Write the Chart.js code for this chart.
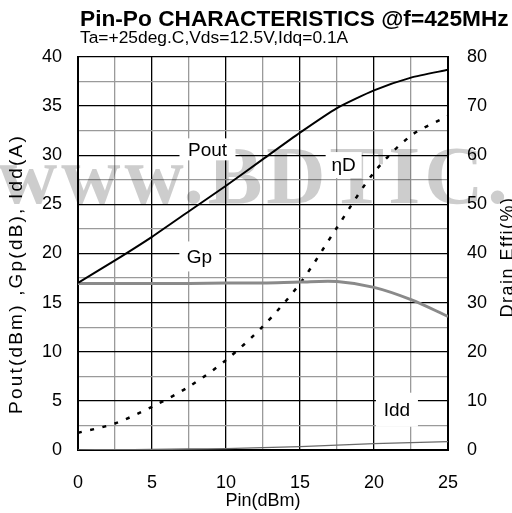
<!DOCTYPE html>
<html>
<head>
<meta charset="utf-8">
<script src="https://cdn.jsdelivr.net/npm/chart.js@4.4.0/dist/chart.umd.min.js"></script>
<style>
  html, body { margin: 0; padding: 0; background: #fff; }
  #wrap { width: 512px; height: 513px; }
</style>
</head>
<body>
<div id="wrap"><canvas id="chart" width="512" height="513"></canvas></div>
<script>
// Values
const pinDbm   = [0, 2.5, 5, 7.5, 10, 12.5, 15, 17.5, 20, 22.5, 25];
const poutDbm  = [17.0, 19.3, 21.7, 24.3, 26.9, 29.6, 32.3, 34.8, 36.6, 37.9, 38.7];
const gpDb     = [16.95, 16.95, 16.95, 16.95, 17.0, 17.0, 17.1, 17.15, 16.55, 15.3, 13.6];
const drainEff = [3.5, 5.4, 8.8, 12.9, 18.3, 25.2, 33.9, 45.3, 56.5, 64.0, 68.0];
const iddA     = [0.02, 0.03, 0.05, 0.1, 0.15, 0.25, 0.35, 0.5, 0.65, 0.75, 0.85];

const leftTicks  = [0, 5, 10, 15, 20, 25, 30, 35, 40];
const rightTicks = [0, 10, 20, 30, 40, 50, 60, 70, 80];
const xTicks     = [0, 5, 10, 15, 20, 25];

const titleText    = 'Pin-Po CHARACTERISTICS @f=425MHz';
const subtitleText = 'Ta=+25deg.C,Vds=12.5V,Idq=0.1A';
const xTitle       = 'Pin(dBm)';
const yLeftTitle   = 'Pout(dBm) ,Gp(dB), Idd(A)';
const yRightTitle  = 'Drain Effi(%)';

// curve labels, placed in data units of the left axis
const curveLabels = [
  { text: 'Pout', x: 8.75, y: 30.6, w: 56, h: 22 },
  { text: 'ηD',   x: 17.95, y: 29.0, w: 36, h: 26 },
  { text: 'Gp',   x: 8.2,  y: 19.7, w: 40, h: 30 },
  { text: 'Idd',  x: 21.55, y: 4.1,  w: 42, h: 34 }
];

const FONT = '"Liberation Sans", Arial, sans-serif';

function pts(ys) {
  return pinDbm.map((x, i) => ({ x: x, y: ys[i] }));
}

function onlyIn(list) {
  return v => list.includes(v) ? String(v) : '';
}

const gridColor = ctx => (ctx.tick && ctx.tick.value % 5 === 0) ? '#000' : '#9a9a9a';

const decorPlugin = {
  id: 'decor',
  beforeDraw(chart) {
    const ctx = chart.ctx;
    ctx.save();
    ctx.fillStyle = '#fff';
    ctx.fillRect(0, 0, chart.width, chart.height);
    ctx.restore();
  },
  afterDatasetsDraw(chart) {
    // watermark
    const ctx = chart.ctx;
    ctx.save();
    ctx.globalCompositeOperation = 'multiply';
    ctx.fillStyle = '#cdcdcd';
    ctx.font = 'bold 82px "Liberation Serif", "DejaVu Serif", serif';
    ctx.letterSpacing = '4px';
    ctx.textBaseline = 'alphabetic';
    ctx.fillText('www.BDTIC.com', -2, 203);
    ctx.restore();
  },
  afterDraw(chart) {
    const ctx = chart.ctx;
    const xs = chart.scales.x, ys = chart.scales.y;
    ctx.save();
    // curve labels with white boxes
    ctx.font = '19px ' + FONT;
    ctx.textAlign = 'center';
    ctx.textBaseline = 'middle';
    curveLabels.forEach(l => {
      const px = xs.getPixelForValue(l.x);
      const py = ys.getPixelForValue(l.y);
      ctx.fillStyle = '#fff';
      ctx.fillRect(px - l.w / 2, py - l.h / 2, l.w, l.h);
      ctx.fillStyle = '#000';
      ctx.fillText(l.text, px, py + 1);
    });

    // titles
    ctx.textAlign = 'left';
    ctx.textBaseline = 'alphabetic';
    ctx.font = 'bold 22.7px ' + FONT;
    ctx.fillText(titleText, 80, 26);
    ctx.font = '17.4px ' + FONT;
    ctx.fillText(subtitleText, 80, 43);

    ctx.font = '18px ' + FONT;
    ctx.textAlign = 'center';
    ctx.fillText(xTitle, (chart.chartArea.left + chart.chartArea.right) / 2, 506);

    ctx.textBaseline = 'middle';
    ctx.save();
    ctx.translate(17, 274);
    ctx.rotate(-Math.PI / 2);
    ctx.font = '19px ' + FONT;
    ctx.letterSpacing = '2.2px';
    ctx.fillText(yLeftTitle, 0, 0);
    ctx.restore();

    ctx.save();
    ctx.translate(508, 257);
    ctx.rotate(-Math.PI / 2);
    ctx.letterSpacing = '1.5px';
    ctx.fillText(yRightTitle, 0, 0);
    ctx.restore();
    ctx.restore();
  }
};

new Chart(document.getElementById('chart'), {
  type: 'line',
  data: {
    datasets: [
      {
        label: 'Pout',
        data: pts(poutDbm),
        yAxisID: 'y',
        borderColor: '#000',
        borderWidth: 2,
        tension: 0.2
      },
      {
        label: 'Gp',
        data: pts(gpDb),
        yAxisID: 'y',
        borderColor: '#8a8a8a',
        borderWidth: 3,
        tension: 0.3
      },
      {
        label: 'Idd',
        data: pts(iddA),
        yAxisID: 'y',
        borderColor: '#6a6a6a',
        borderWidth: 1.3,
        tension: 0.2
      },
      {
        label: 'ηD',
        data: pts(drainEff),
        yAxisID: 'y2',
        borderColor: '#000',
        borderWidth: 2.5,
        borderDash: [4, 8.5],
        tension: 0.3
      }
    ]
  },
  options: {
    responsive: false,
    animation: false,
    events: [],
    layout: { padding: { top: 57, left: 0, right: 0, bottom: 0 } },
    elements: { point: { radius: 0 } },
    plugins: {
      legend: { display: false },
      tooltip: { enabled: false }
    },
    scales: {
      x: {
        type: 'linear',
        min: 0, max: 25,
        afterFit: s => { s.height = 63; },
        afterBuildTicks: s => { s.ticks = pinDbm.map(v => ({ value: v })); },
        ticks: {
          callback: onlyIn(xTicks),
          autoSkip: false,
          maxRotation: 0,
          padding: 22,
          color: '#000',
          font: { family: FONT, size: 18 }
        },
        grid: { color: gridColor, lineWidth: 1.3, drawTicks: false },
        border: { display: true, color: '#000', width: 2 }
      },
      y: {
        position: 'left',
        min: 0, max: 40,
        afterFit: s => { s.width = 78; },
        ticks: {
          stepSize: 2.5,
          callback: onlyIn(leftTicks),
          autoSkip: false,
          padding: 16,
          color: '#000',
          font: { family: FONT, size: 18 }
        },
        grid: { color: gridColor, lineWidth: 1.3, drawTicks: false },
        border: { display: true, color: '#000', width: 2 }
      },
      y2: {
        position: 'right',
        min: 0, max: 80,
        afterFit: s => { s.width = 64; },
        ticks: {
          stepSize: 10,
          callback: onlyIn(rightTicks),
          autoSkip: false,
          padding: 19,
          color: '#000',
          font: { family: FONT, size: 18 }
        },
        grid: { display: false, drawTicks: false },
        border: { display: true, color: '#000', width: 2 }
      }
    }
  },
  plugins: [decorPlugin]
});
</script>
</body>
</html>
